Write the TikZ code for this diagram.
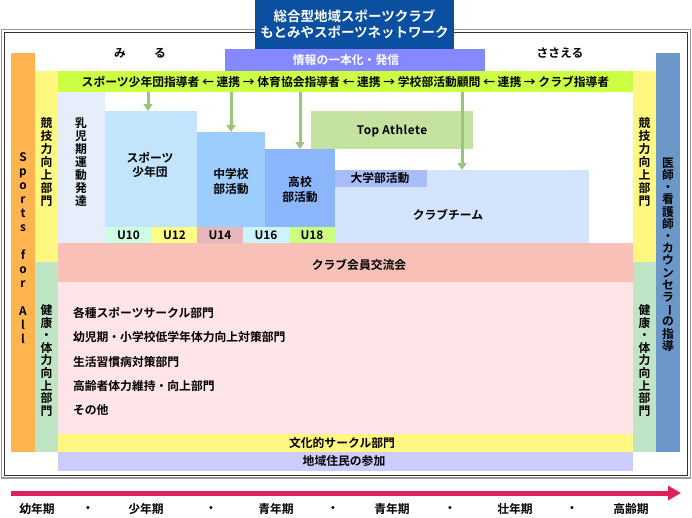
\documentclass[tikz,border=0pt]{standalone}
\usepackage{fontspec}
\setmainfont{Noto Sans CJK JP}[BoldFont={Noto Sans CJK JP Bold}]
\usetikzlibrary{arrows.meta}
\definecolor{titleblue}{HTML}{0B4FA0}
\definecolor{infopurple}{HTML}{8588FF}
\definecolor{cOrange}{HTML}{FFB44F}
\definecolor{cYellow}{HTML}{FFF780}
\definecolor{cGreen}{HTML}{BFE5C4}
\definecolor{cBlue}{HTML}{6B98C8}
\definecolor{cLime}{HTML}{CCFF44}
\definecolor{cNyuji}{HTML}{E6EEFC}
\definecolor{cSst}{HTML}{C2E4FC}
\definecolor{cChu}{HTML}{9DCDFC}
\definecolor{cKou}{HTML}{8CB6FC}
\definecolor{cTop}{HTML}{C4E2A0}
\definecolor{cClub}{HTML}{D4E4FC}
\definecolor{cUniv}{HTML}{A8BCF8}
\definecolor{cUa}{HTML}{CCFFE4}
\definecolor{cUb}{HTML}{FFFF88}
\definecolor{cUc}{HTML}{E6B8BE}
\definecolor{cUd}{HTML}{CCF4FF}
\definecolor{cUe}{HTML}{CCFF80}
\definecolor{cKoryu}{HTML}{F9C0B8}
\definecolor{cPink}{HTML}{FFE4E8}
\definecolor{cLav}{HTML}{CCCCFF}
\definecolor{cArrow}{HTML}{9CC47C}
\definecolor{cRed}{HTML}{E0205A}
\begin{document}
\begin{tikzpicture}[x=1pt,y=-1pt,
  font=\fontsize{11.8}{13}\selectfont\bfseries,
  every node/.style={inner sep=0pt,outer sep=0pt},
  area/.style={anchor=north west,draw=none},
  vtext/.style={align=center,font=\fontsize{11.8}{#1}\selectfont\bfseries},
  garrow/.style={draw=cArrow,line width=3pt,-{Triangle[width=9pt,length=7pt]}},
  frameout/.style={draw=gray!80,line width=1.5pt},
  framein/.style={draw=black!80,line width=1pt}]
\useasboundingbox (0,0) rectangle (692,517);
% frame
\draw[frameout] (1.5,29.5) rectangle (690.5,478);
\draw[framein] (4.5,32.5) rectangle (687.5,475.5);
% title
\node[area,fill=titleblue,minimum width=199pt,minimum height=49pt] (title) at (255,0) {};
\node[align=center,text=white,font=\fontsize{13.5}{16}\selectfont\bfseries] (titletxt) at (354.5,24) {総合型地域スポーツクラブ\\もとみやスポーツネットワーク};
\node[area,fill=infopurple,minimum width=260pt,minimum height=22pt] (info) at (225,49) {};
\node[text=white] (infotxt) at (346,60) {情報の一本化・発信};
\node (miru1) at (120,53) {み};
\node (miru2) at (160,53) {る};
\node (sasaeru) at (560,53) {ささえる};
% side bars
\node[area,fill=cOrange,minimum width=24pt,minimum height=399pt] (orange) at (11,53) {};
\node[vtext=14] (orangetxt) at (23,248.5) {S\\p\\o\\r\\t\\s\\~\\f\\o\\r\\~\\A\\l\\l};
\node[area,fill=cYellow,minimum width=23pt,minimum height=191pt] (yellowL) at (35,71) {};
\node[vtext=13] (yellowLtxt) at (46.5,162) {競\\技\\力\\向\\上\\部\\門};
\node[area,fill=cGreen,minimum width=23pt,minimum height=190pt] (greenL) at (35,262) {};
\node[vtext=12.6] (greenLtxt) at (46.5,360.5) {健\\康\\・\\体\\力\\向\\上\\部\\門};
\node[area,fill=cYellow,minimum width=23pt,minimum height=191pt] (yellowR) at (633,71) {};
\node[vtext=13] (yellowRtxt) at (644.5,162) {競\\技\\力\\向\\上\\部\\門};
\node[area,fill=cGreen,minimum width=23pt,minimum height=190pt] (greenR) at (633,262) {};
\node[vtext=12.6] (greenRtxt) at (644.5,360.5) {健\\康\\・\\体\\力\\向\\上\\部\\門};
\node[area,fill=cBlue,minimum width=24pt,minimum height=399pt] (blueR) at (656,53) {};
\node[vtext=12.2] (blueRtxt) at (668,254.5) {医\\師\\・\\看\\護\\師\\・\\カ\\ウ\\ン\\セ\\ラ\\\rotatebox[origin=c]{-90}{ー}\\の\\指\\導};
% lime band
\node[area,fill=cLime,minimum width=575pt,minimum height=21pt] (lime) at (58,71) {};
\node (limetxt) at (345.5,82) {スポーツ少年団指導者 ← 連携 → 体育協会指導者 ← 連携 → 学校部活動顧問 ← 連携 → クラブ指導者};
% sports stages
\node[area,fill=cNyuji,minimum width=47pt,minimum height=151pt] (nyuji) at (58,92) {};
\node[vtext=13] (nyujitxt) at (81,162) {乳\\児\\期\\運\\動\\発\\達};
\node[area,fill=cSst,minimum width=92pt,minimum height=116pt] (sst) at (105,111) {};
\node[align=center,font=\fontsize{11.8}{14}\selectfont\bfseries] (ssttxt) at (150,165) {スポーツ\\少年団};
\node[area,fill=cChu,minimum width=68pt,minimum height=95pt] (chu) at (197,132) {};
\node[align=center,font=\fontsize{11.8}{15}\selectfont\bfseries] (chutxt) at (231,181.5) {中学校\\部活動};
\node[area,fill=cKou,minimum width=70pt,minimum height=78pt] (kou) at (265,149) {};
\node[align=center,font=\fontsize{11.8}{15}\selectfont\bfseries] (koutxt) at (300,189.5) {高校\\部活動};
\node[area,fill=cTop,minimum width=162pt,minimum height=38pt] (top) at (311,111) {};
\node (toptxt) at (392,131) {\addfontfeature{LetterSpace=4}Top\ Athlete};
\node[area,fill=cClub,minimum width=254pt,minimum height=73pt] (club) at (335,170) {};
\node (clubtxt) at (448,215) {クラブチーム};
\node[area,fill=cUniv,minimum width=92pt,minimum height=17pt] (univ) at (335,170) {};
\node (univtxt) at (380,178) {大学部活動};
% U row
\node[area,fill=cUa,minimum width=47pt,minimum height=16pt] (u10) at (105,227) {};
\node[area,fill=cUb,minimum width=45pt,minimum height=16pt] (u12) at (152,227) {};
\node[area,fill=cUc,minimum width=46pt,minimum height=16pt] (u14) at (197,227) {};
\node[area,fill=cUd,minimum width=46pt,minimum height=16pt] (u16) at (243,227) {};
\node[area,fill=cUe,minimum width=46pt,minimum height=16pt] (u18) at (289,227) {};
\node (u10txt) at (u10.center) {U10};
\node (u12txt) at (u12.center) {U12};
\node (u14txt) at (u14.center) {U14};
\node (u16txt) at (u16.center) {U16};
\node (u18txt) at (u18.center) {U18};
% lower bands
\node[area,fill=cKoryu,minimum width=575pt,minimum height=39pt] (koryu) at (58,243) {};
\node (koryutxt) at (359,265) {クラブ会員交流会};
\node[area,fill=cPink,minimum width=575pt,minimum height=152pt] (pink) at (58,282) {};
\node[anchor=west] (l1) at (73,313) {各種スポーツサークル部門};
\node[anchor=west] (l2) at (73,337) {幼児期・小学校低学年体力向上対策部門};
\node[anchor=west] (l3) at (73,362) {生活習慣病対策部門};
\node[anchor=west] (l4) at (73,386) {高齢者体力維持・向上部門};
\node[anchor=west] (l5) at (73,410) {その他};
\node[area,fill=cYellow,minimum width=575pt,minimum height=18pt] (bunka) at (58,434) {};
\node (bunkatxt) at (342,443) {文化的サークル部門};
\node[area,fill=cLav,minimum width=575pt,minimum height=19pt] (chiiki) at (58,452) {};
\node (chiikitxt) at (344,461.5) {地域住民の参加};
% green arrows
\coordinate (a1) at ([xshift=-3pt]sst.north);
\draw[garrow] (a1 |- lime.south) -- (a1);
\draw[garrow] (chu.north |- lime.south) -- (chu.north);
\draw[garrow] (kou.north |- lime.south) -- (kou.north);
\draw[garrow] (club.north |- lime.south) -- (club.north);
% life stage arrow
\coordinate (as) at (11,493);
\coordinate (ae) at (681,493);
\draw[draw=cRed,line width=5pt,-{Triangle[width=14pt,length=13pt]}] (as) -- (ae);
\node (s1) at (37,509) {幼年期};
\node (d1) at (88,509) {・};
\node (s2) at (146,509) {少年期};
\node (d2) at (211,509) {・};
\node (s3) at (276,509) {青年期};
\node (d3) at (333,509) {・};
\node (s4) at (392,509) {青年期};
\node (d4) at (450,509) {・};
\node (s5) at (515,509) {壮年期};
\node (d5) at (572,509) {・};
\node (s6) at (631,509) {高齢期};
\end{tikzpicture}
\end{document}
